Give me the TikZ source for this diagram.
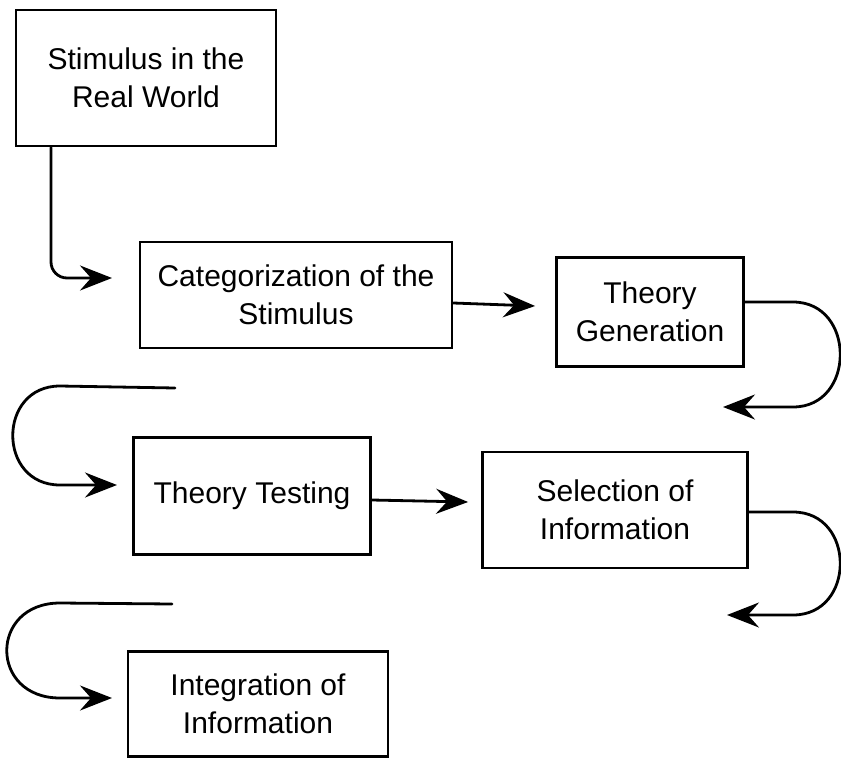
\documentclass[tikz,border=0pt]{standalone}
\usepackage{fontspec}
\setmainfont{Liberation Sans}
\usetikzlibrary{arrows.meta}
\begin{document}
\begin{tikzpicture}[x=1pt,y=-1pt,
  box/.style={draw, line width=2.8pt, rectangle, align=center, inner sep=0pt,
    font=\fontsize{30}{38}\selectfont},
  conn/.style={line width=2.8pt, line cap=round},
  arr/.style={conn, -{Stealth[length=32pt,width=25pt,inset=11pt]}}]
\useasboundingbox (0,0) rectangle (841,766);
% boxes
\node[box, minimum width=260pt, minimum height=136pt] (b1) at (146,78) {Stimulus in the\\Real World};
\node[box, minimum width=312pt, minimum height=106pt] (b2) at (296,295) {Categorization of the\\Stimulus};
\node[box, minimum width=187pt, minimum height=109pt] (b3) at (650,312) {Theory\\Generation};
\node[box, minimum width=237pt, minimum height=117pt] (b4) at (252,496) {Theory Testing};
\node[box, minimum width=265pt, minimum height=116pt] (b5) at (615,510) {Selection of\\Information};
\node[box, minimum width=260pt, minimum height=105pt] (b6) at (258,704) {Integration of\\Information};
% free ends and bends
\coordinate (c1) at (51,278);
\coordinate (t1) at (112,278);
\coordinate (t3) at (723,407);
\coordinate (s4) at (175,388);
\coordinate (t4) at (117,485);
\coordinate (t5) at (727,615);
\coordinate (s6) at (172,604);
\coordinate (t6) at (112,698);
% connectors
\draw[arr, rounded corners=16pt] (b1.south -| c1) -- (c1) -- (t1);
\draw[arr] ([yshift=-8pt]b2.east) -- ([xshift=-20pt,yshift=6pt]b3.west);
\draw[arr] ([yshift=10pt]b3.east) -- (793,302) .. controls (856,302) and (856,407) .. (793,407) -- (t3);
\draw[arr] (s4) -- (60,386) .. controls (-3,386) and (-3,485) .. (60,485) -- (t4);
\draw[arr] ([yshift=-4pt]b4.east) -- ([xshift=-13pt,yshift=8pt]b5.west);
\draw[arr] ([yshift=-2pt]b5.east) -- (793,512) .. controls (856,512) and (856,615) .. (793,615) -- (t5);
\draw[arr] (s6) -- (60,603) .. controls (-11,603) and (-11,698) .. (60,698) -- (t6);
\end{tikzpicture}
\end{document}
